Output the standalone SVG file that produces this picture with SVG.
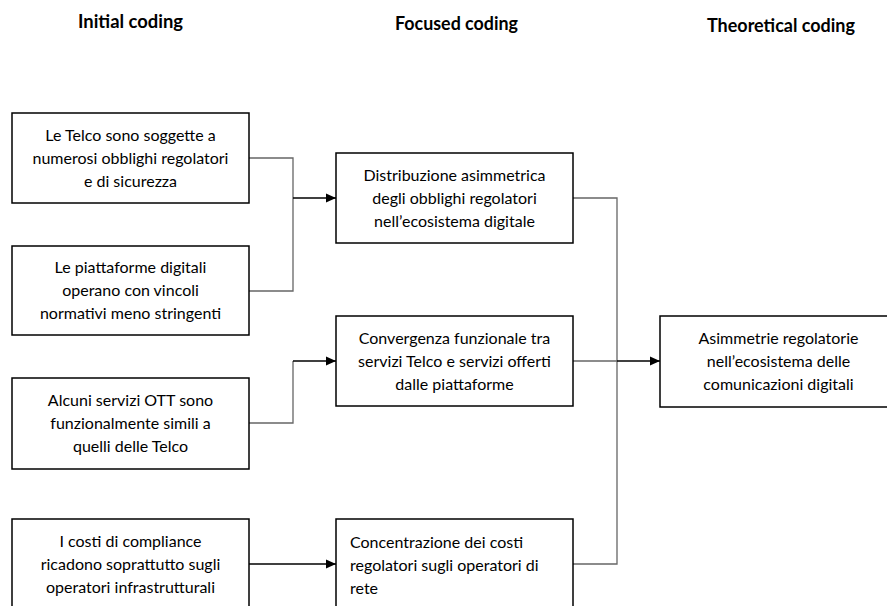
<svg xmlns="http://www.w3.org/2000/svg" width="887" height="606" viewBox="0 0 887 606">
<defs>
<marker id="ah" viewBox="0 0 10 10" refX="10" refY="5" markerWidth="10" markerHeight="10" markerUnits="userSpaceOnUse" orient="auto">
<path d="M0,0.5 L10,5 L0,9.5 Z" fill="#000"/>
</marker>
<style>
.hd{font-family:Lato,"Liberation Sans",sans-serif;font-weight:bold;font-size:19px;fill:#000;text-anchor:middle}
.box{fill:#fff;stroke:#000;stroke-width:1.5}
.t{font-family:Lato,"Liberation Sans",sans-serif;font-size:16px;fill:#000;text-anchor:middle}
.tl{font-family:Lato,"Liberation Sans",sans-serif;font-size:16px;fill:#000;text-anchor:start}
.c{fill:none;stroke:#666;stroke-width:1.3}
.ca{fill:none;stroke:#000;stroke-width:1.3;marker-end:url(#ah)}
</style>
</defs>
<rect width="887" height="606" fill="#fff"/>
<g id="headers">
<text class="hd" x="130.5" y="28" textLength="105" lengthAdjust="spacingAndGlyphs">Initial coding</text>
<text class="hd" x="456.5" y="30" textLength="123" lengthAdjust="spacingAndGlyphs">Focused coding</text>
<text class="hd" x="781" y="32" textLength="148" lengthAdjust="spacingAndGlyphs">Theoretical coding</text>
</g>
<g id="connectors">
<polyline class="c" points="249,158 293,158 293,291 249,291"/>
<line class="ca" x1="293" y1="198" x2="336" y2="198"/>
<polyline class="c" points="249,423 293,423 293,361"/>
<line class="ca" x1="293" y1="361" x2="336" y2="361"/>
<line class="ca" x1="249" y1="564" x2="336" y2="564"/>
<polyline class="c" points="573,198 617,198 617,564 573,564"/>
<line class="c" x1="573" y1="361" x2="617" y2="361"/>
<line class="ca" x1="617" y1="361" x2="660" y2="361"/>
</g>
<g id="i1">
<rect class="box" x="12" y="113" width="237" height="90"/>
<text class="t" x="130.5" y="141">Le Telco sono soggette a</text>
<text class="t" x="130.5" y="164">numerosi obblighi regolatori</text>
<text class="t" x="130.5" y="187">e di sicurezza</text>
</g>
<g id="i2">
<rect class="box" x="12" y="246" width="237" height="89"/>
<text class="t" x="130.5" y="273">Le piattaforme digitali</text>
<text class="t" x="130.5" y="296">operano con vincoli</text>
<text class="t" x="130.5" y="319">normativi meno stringenti</text>
</g>
<g id="i3">
<rect class="box" x="12" y="378" width="237" height="91"/>
<text class="t" x="130.5" y="406">Alcuni servizi OTT sono</text>
<text class="t" x="130.5" y="429">funzionalmente simili a</text>
<text class="t" x="130.5" y="452">quelli delle Telco</text>
</g>
<g id="i4">
<rect class="box" x="12" y="519" width="237" height="92"/>
<text class="t" x="130.5" y="547">I costi di compliance</text>
<text class="t" x="130.5" y="570">ricadono soprattutto sugli</text>
<text class="t" x="130.5" y="593">operatori infrastrutturali</text>
</g>
<g id="f1">
<rect class="box" x="336" y="153" width="237" height="90"/>
<text class="t" x="454.5" y="181">Distribuzione asimmetrica</text>
<text class="t" x="454.5" y="204">degli obblighi regolatori</text>
<text class="t" x="454.5" y="227">nell’ecosistema digitale</text>
</g>
<g id="f2">
<rect class="box" x="336" y="316" width="237" height="90"/>
<text class="t" x="454.5" y="344">Convergenza funzionale tra</text>
<text class="t" x="454.5" y="367">servizi Telco e servizi offerti</text>
<text class="t" x="454.5" y="390">dalle piattaforme</text>
</g>
<g id="f3">
<rect class="box" x="336" y="519" width="237" height="92"/>
<text class="tl" x="350" y="548">Concentrazione dei costi</text>
<text class="tl" x="350" y="571">regolatori sugli operatori di</text>
<text class="tl" x="350" y="594">rete</text>
</g>
<g id="t1">
<rect class="box" x="660" y="316" width="240" height="91"/>
<text class="t" x="778.5" y="344">Asimmetrie regolatorie</text>
<text class="t" x="778.5" y="367">nell’ecosistema delle</text>
<text class="t" x="778.5" y="390">comunicazioni digitali</text>
</g>
</svg>
